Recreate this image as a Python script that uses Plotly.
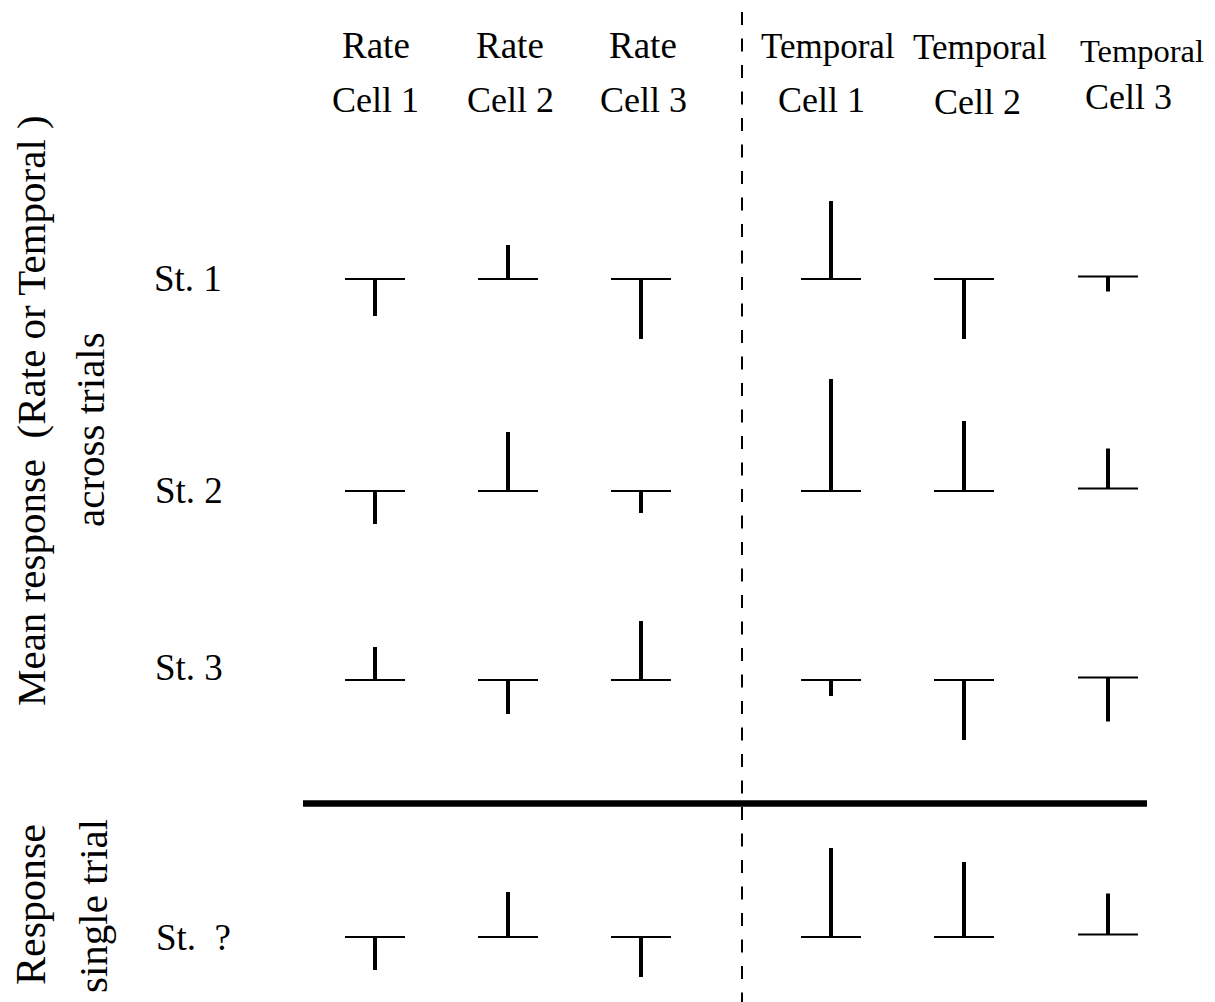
import plotly.graph_objects as go

# ---------------- data ----------------
header_top = ["Rate", "Rate", "Rate", "Temporal", "Temporal", "Temporal"]
header_bottom = ["Cell 1", "Cell 2", "Cell 3", "Cell 1", "Cell 2", "Cell 3"]
stimuli = ["St. 1", "St. 2", "St. 3", "St. \u00a0?"]

# response of each cell (positive = upward stem, negative = downward stem)
st1 = [-37, 34, -60, 78, -60, -15]
st2 = [-33, 59, -22, 112, 70, 40]
st3 = [33, -34, 59, -16, -60, -44]
st_unknown = [-33, 45, -40, 89, 75, 41]
responses = [st1, st2, st3, st_unknown]

# ---------------- layout constants (pixels) ----------------
W, H = 1215, 1002
PAD = 8  # page body margin
col_x = [375, 508, 641, 831, 964, 1108]
col_raise = [0, 0, 0, 0, 0, 2.5]
row_base = [279, 491, 680, 937]
half_base = 30
FONT = "Liberation Serif, Times New Roman, serif"


def Y(p):
    return H - p


bx, by, sx, sy = [], [], [], []
for r, vals in enumerate(responses):
    for c, v in enumerate(vals):
        yb = Y(row_base[r]) + col_raise[c]
        bx += [col_x[c] - half_base, col_x[c] + half_base, None]
        by += [yb, yb, None]
        sx += [col_x[c], col_x[c], None]
        sy += [yb, yb + v, None]

fig = go.Figure()
fig.add_trace(go.Scatter(x=bx, y=by, mode="lines",
                         line=dict(color="black", width=2.2),
                         hoverinfo="skip", showlegend=False))
fig.add_trace(go.Scatter(x=sx, y=sy, mode="lines",
                         line=dict(color="black", width=4),
                         hoverinfo="skip", showlegend=False))
# thick separator between mean responses and single trial
fig.add_trace(go.Scatter(x=[303, 1147], y=[Y(803.5), Y(803.5)], mode="lines",
                         line=dict(color="black", width=6.5),
                         hoverinfo="skip", showlegend=False))
# dashed divider between rate and temporal cells
fig.add_trace(go.Scatter(x=[742, 742], y=[Y(12), Y(1020)], mode="lines",
                         line=dict(color="black", width=2, dash="13px,13.5px"),
                         hoverinfo="skip", showlegend=False))

ann = []
top_x = [376, 510, 643, 828, 980, 1142]
top_y = [45, 45, 45, 46, 47, 51]
top_size = [37, 37, 37, 35, 35, 32.5]
bot_x = [375, 510, 643, 821, 977, 1128]
bot_y = [100, 100, 100, 100, 102, 97]
for i in range(6):
    ann.append(dict(x=top_x[i], y=Y(top_y[i]), text=header_top[i],
                    font=dict(size=top_size[i])))
    ann.append(dict(x=bot_x[i], y=Y(bot_y[i]), text=header_bottom[i],
                    font=dict(size=36)))

st_x = [188, 189, 189, 193]
st_y = [278, 490, 667, 937]
for i, s in enumerate(stimuli):
    ann.append(dict(x=st_x[i], y=Y(st_y[i]), text=s, font=dict(size=37)))

ann.append(dict(x=31, y=Y(411), text="Mean response \u00a0(Rate or Temporal )",
                textangle=-90, font=dict(size=41)))
ann.append(dict(x=90, y=Y(430), text="across trials", textangle=-90,
                font=dict(size=41)))
ann.append(dict(x=31, y=Y(905), text="Response", textangle=-90,
                font=dict(size=42)))
ann.append(dict(x=93, y=Y(906), text="single trial", textangle=-90,
                font=dict(size=41)))

for a in ann:
    a.update(xref="x", yref="y", showarrow=False, xanchor="center",
             yanchor="middle")
    a["font"].update(family=FONT, color="black")

fig.update_layout(
    width=W - PAD, height=H - PAD, margin=dict(l=0, r=0, t=0, b=0),
    paper_bgcolor="white", plot_bgcolor="white",
    xaxis=dict(range=[PAD, W], visible=False, fixedrange=True),
    yaxis=dict(range=[0, H - PAD], visible=False, fixedrange=True),
    annotations=ann, showlegend=False,
)
fig.write_html("out.html", config={"displayModeBar": False})
